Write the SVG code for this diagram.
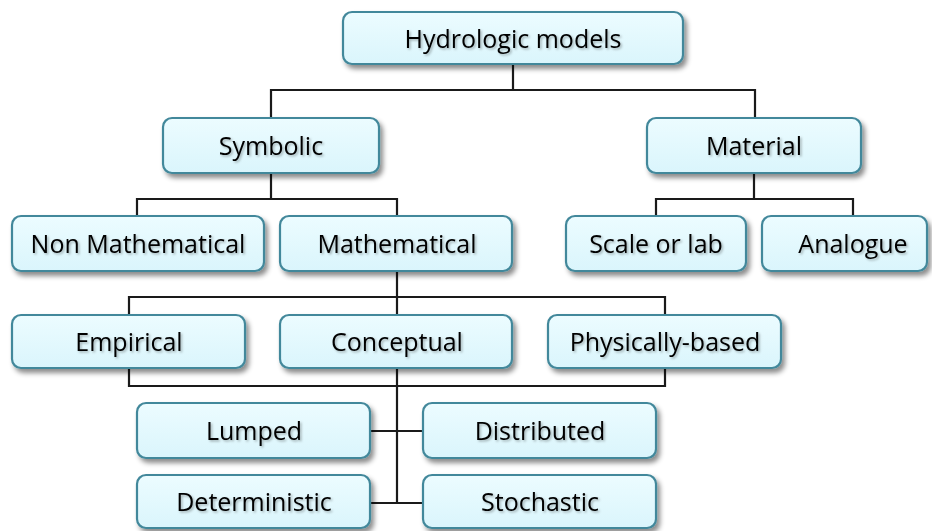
<svg xmlns="http://www.w3.org/2000/svg" width="932" height="531" viewBox="0 0 932 531">
<defs>
<linearGradient id="g" x1="0" y1="0" x2="0" y2="1">
<stop offset="0" stop-color="#ecfcff"/>
<stop offset="1" stop-color="#daf5fc"/>
</linearGradient>
<filter id="sh" x="-10%" y="-20%" width="130%" height="160%">
<feDropShadow dx="3" dy="4" stdDeviation="2.5" flood-color="#000" flood-opacity="0.45"/>
</filter>
<filter id="ts" x="-5%" y="-20%" width="115%" height="160%">
<feDropShadow dx="1.5" dy="1.5" stdDeviation="1" flood-color="#000" flood-opacity="0.3"/>
</filter>
</defs>
<style>
.box{fill:url(#g);stroke:#43889b;stroke-width:2.2;filter:url(#sh)}
.t{font-family:"Open Sans","Liberation Sans",sans-serif;font-size:25px;fill:#000;text-anchor:middle;filter:url(#ts)}
.c{fill:none;stroke:#1a1a1a;stroke-width:2.2}
</style>
<rect width="932" height="531" fill="#fff"/>
<g id="connectors">
<path class="c" d="M513 64V90M271 118V90H755V118"/>
<path class="c" d="M271 173V199M137 216V199H397V216"/>
<path class="c" d="M754 173V199M656 216V199H853V216"/>
<path class="c" d="M397 271V503M129 297H665V386H129Z"/>
<path class="c" d="M370 431H423M370 503H423"/>
</g>
<g id="hydrologic"><rect class="box" x="343" y="12" width="340" height="52" rx="9"/><text class="t" x="513" y="48">Hydrologic models</text></g>
<g id="symbolic"><rect class="box" x="163" y="118" width="216" height="55" rx="9"/><text class="t" x="271" y="155">Symbolic</text></g>
<g id="material"><rect class="box" x="647" y="118" width="214" height="55" rx="9"/><text class="t" x="754" y="155">Material</text></g>
<g id="nonmath"><rect class="box" x="12" y="216" width="252" height="55" rx="9"/><text class="t" x="138" y="253">Non Mathematical</text></g>
<g id="math"><rect class="box" x="280" y="216" width="232" height="55" rx="9"/><text class="t" x="397" y="253">Mathematical</text></g>
<g id="scale"><rect class="box" x="566" y="216" width="180" height="55" rx="9"/><text class="t" x="656" y="253">Scale or lab</text></g>
<g id="analogue"><rect class="box" x="762" y="216" width="165" height="55" rx="9"/><text class="t" x="853" y="253">Analogue</text></g>
<g id="empirical"><rect class="box" x="12" y="315" width="233" height="53" rx="9"/><text class="t" x="129" y="351">Empirical</text></g>
<g id="conceptual"><rect class="box" x="280" y="315" width="232" height="53" rx="9"/><text class="t" x="397" y="351">Conceptual</text></g>
<g id="physically"><rect class="box" x="548" y="315" width="233" height="53" rx="9"/><text class="t" x="665" y="351">Physically-based</text></g>
<g id="lumped"><rect class="box" x="137" y="403" width="233" height="55" rx="9"/><text class="t" x="254" y="440">Lumped</text></g>
<g id="distributed"><rect class="box" x="423" y="403" width="233" height="55" rx="9"/><text class="t" x="540" y="440">Distributed</text></g>
<g id="deterministic"><rect class="box" x="137" y="475" width="233" height="53" rx="9"/><text class="t" x="254" y="511">Deterministic</text></g>
<g id="stochastic"><rect class="box" x="423" y="475" width="233" height="53" rx="9"/><text class="t" x="540" y="511">Stochastic</text></g>
</svg>
